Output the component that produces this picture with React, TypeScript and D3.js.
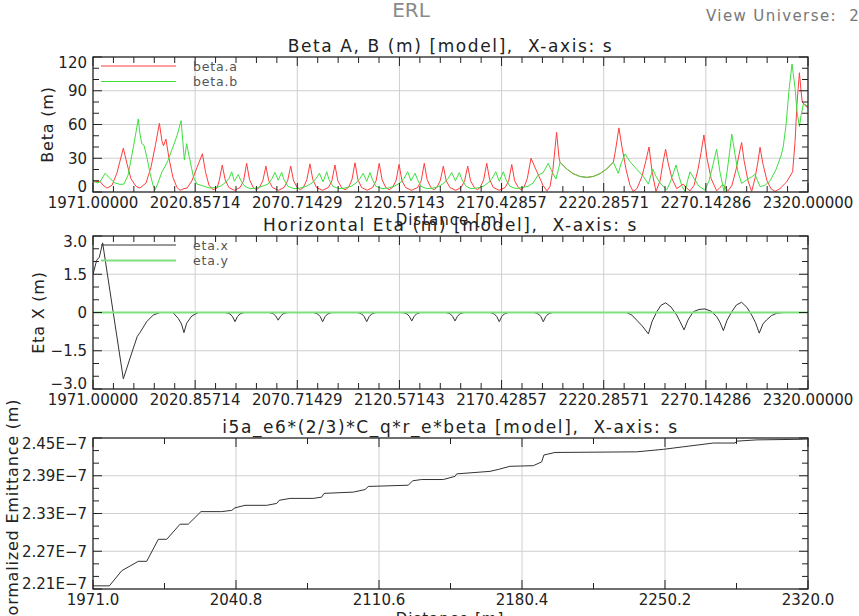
import React, { useEffect } from 'react';
import * as d3 from 'd3';

type Pt = [number, number];

const FONT = "'DejaVu Sans', 'Liberation Sans', sans-serif";
const WIDTH = 859;
const HEIGHT = 616;
const PLOT_LEFT = 93;
const PLOT_RIGHT = 808;
const S_MIN = 1971;
const S_MAX = 2320;

// ---- axis ticks -------------------------------------------------------
const sTicksFine = [1971, 2020.85714, 2070.71429, 2120.57143, 2170.42857, 2220.28571, 2270.14286, 2320];
const sLabelsFine = ['1971.00000', '2020.85714', '2070.71429', '2120.57143', '2170.42857', '2220.28571', '2270.14286', '2320.00000'];
const sTicksCoarse = [1971, 2040.8, 2110.6, 2180.4, 2250.2, 2320];
const sLabelsCoarse = ['1971.0', '2040.8', '2110.6', '2180.4', '2250.2', '2320.0'];

const betaTicks = [0, 30, 60, 90, 120];
const betaLabels = ['0', '30', '60', '90', '120'];
const etaTicks = [-3, -1.5, 0, 1.5, 3];
const etaLabels = ['\u22123.0', '\u22121.5', '0', '1.5', '3.0'];
const emitTicks = [2.21, 2.27, 2.33, 2.39, 2.45];
const emitLabels = ['2.21E\u22127', '2.27E\u22127', '2.33E\u22127', '2.39E\u22127', '2.45E\u22127'];

// ---- beta.a (m) vs s (m) ----------------------------------------------
const betaA: Pt[] = [
  [1971.0, 9], [1974.4, 9.5], [1975.9, 6], [1977.8, 3.5], [1980.3, 6], [1982.7, 17], [1985.8, 39],
  [1987.6, 25], [1989.5, 12], [1992.0, 5], [1993.9, 3.5], [1996.9, 8], [1999.3, 22], [2001.5, 42],
  [2003.4, 61], [2004.7, 45], [2005.4, 41], [2006.6, 47], [2008.1, 30], [2010.0, 13], [2012.0, 4],
  [2013.5, 1.5], [2015.4, 3], [2016.9, 3.5], [2019.3, 10], [2021.8, 22], [2024.4, 34], [2025.9, 18],
  [2027.6, 6], [2029.6, 2], [2031.5, 3.5], [2032.6, 10], [2034.1, 24], [2035.5, 11], [2037.3, 4],
  [2040.0, 1.5], [2042.8, 4], [2044.5, 10], [2046.0, 25.5], [2047.4, 11], [2049.2, 4], [2050.7, 2],
  [2052.2, 4], [2053.9, 10], [2055.4, 23], [2056.8, 10], [2058.6, 4], [2061.5, 1.5],
  [2064.3, 4], [2066.0, 10], [2067.5, 23], [2068.9, 10], [2070.7, 4], [2072.2, 2],
  [2073.7, 4], [2075.4, 11], [2076.9, 25], [2078.3, 11], [2080.1, 4], [2083.0, 1.5],
  [2085.9, 4], [2087.6, 10], [2089.1, 24], [2090.5, 10], [2092.3, 4], [2094.0, 2],
  [2095.7, 4], [2097.4, 11], [2098.9, 26], [2100.3, 11], [2102.1, 4], [2104.8, 1.5],
  [2107.5, 4], [2109.2, 10], [2110.7, 25.5], [2112.1, 11], [2113.9, 4], [2115.5, 2],
  [2117.2, 4], [2118.9, 10], [2120.4, 24.5], [2121.8, 10], [2123.6, 4], [2126.5, 1.5],
  [2129.5, 4], [2131.2, 10], [2132.7, 25.5], [2134.1, 11], [2135.9, 4], [2137.4, 2],
  [2138.8, 4], [2140.5, 10], [2142.0, 23], [2143.4, 10], [2145.2, 4], [2148.0, 1.5],
  [2150.7, 4], [2152.4, 10], [2153.9, 23], [2155.3, 10], [2157.1, 4], [2158.6, 2],
  [2160.0, 4], [2161.7, 11], [2163.2, 25.5], [2164.6, 11], [2166.4, 4], [2169.3, 1.5],
  [2172.2, 4], [2173.9, 10], [2175.4, 24.5], [2176.8, 10], [2178.6, 4], [2180.0, 2],
  [2181.5, 5], [2183.0, 12], [2184.8, 30], [2187.2, 20], [2189.2, 12], [2190.6, 6], [2192.6, 1],
  [2194.1, 5], [2195.5, 20], [2197.3, 53], [2198.5, 30], [2199.0, 26.4],
  [2202.2, 20.5], [2205.4, 16.3], [2208.7, 13.8], [2212.0, 13], [2215.2, 13.8], [2218.5, 16.3],
  [2221.7, 20.5], [2225.0, 26.4],
  [2226.3, 40], [2227.7, 57], [2229.2, 40], [2231.2, 20], [2233.1, 6], [2234.7, 0.5], [2236.5, 3],
  [2239.0, 14], [2240.9, 28], [2242.4, 40], [2243.9, 18], [2245.8, 0.5], [2247.8, 10], [2249.2, 26],
  [2250.5, 38], [2251.7, 26], [2253.6, 12], [2255.9, 3], [2257.5, 5], [2259.1, 7], [2260.5, 4],
  [2262.4, 1], [2264.4, 6], [2266.3, 20], [2267.8, 35], [2269.2, 50.7], [2270.7, 30], [2272.7, 12],
  [2275.4, 1], [2277.0, 4], [2278.5, 6.7], [2280.0, 3], [2281.0, 1], [2282.9, 6], [2284.9, 20],
  [2286.3, 33], [2287.6, 44], [2288.8, 28], [2290.7, 10], [2292.5, 0.5], [2294.1, 12], [2295.4, 25],
  [2296.6, 39.7], [2298.0, 25], [2300.0, 10], [2301.9, 3], [2303.9, 0.5], [2306.3, 3], [2309.6, 9],
  [2312.5, 18], [2313.7, 45], [2314.6, 78], [2315.8, 106], [2316.6, 90], [2317.2, 80], [2318.5, 77],
  [2320.0, 75],
];

// ---- beta.b (m) vs s (m) ----------------------------------------------
const betaB: Pt[] = [
  [1971.0, 10.5], [1973.0, 8], [1974.4, 9], [1976.9, 16.6], [1979.3, 12], [1981.7, 8], [1984.2, 6.8],
  [1986.1, 7], [1988.1, 15], [1990.0, 33], [1991.5, 48], [1993.1, 65], [1993.9, 52], [1994.8, 43],
  [1995.9, 41.5], [1997.4, 30], [1998.8, 17], [2000.3, 6], [2001.3, 1.8], [2002.7, 8], [2004.7, 18],
  [2006.1, 22.5], [2007.6, 28], [2009.6, 38], [2012.0, 50], [2014.0, 63.4], [2015.6, 28.4],
  [2016.7, 43], [2017.9, 32], [2020.0, 13.6], [2021.8, 7], [2023.7, 6], [2025.7, 4.7], [2028.1, 3.5],
  [2030.5, 4], [2033.0, 5], [2035.4, 8], [2037.4, 12], [2038.7, 18], [2040.0, 9.5], [2041.9, 15.5],
  [2043.2, 10], [2045.2, 5], [2047.6, 3], [2050.6, 3.5], [2053.5, 5], [2056.4, 7], [2058.4, 12],
  [2059.8, 17.5], [2061.4, 10.5], [2063.1, 17.5], [2064.2, 11], [2066.2, 5], [2069.1, 3],
  [2072.0, 3.5], [2075.0, 5], [2077.9, 8], [2079.9, 12], [2081.5, 16.6], [2083.3, 9], [2085.1, 18],
  [2086.2, 11], [2088.1, 5], [2091.1, 3], [2094.0, 3.5], [2096.9, 5], [2099.4, 8], [2101.3, 12],
  [2102.9, 16.6], [2104.6, 9.5], [2106.2, 17.3], [2107.4, 11], [2109.1, 5], [2112.1, 3],
  [2115.0, 3.5], [2117.9, 5], [2120.9, 8], [2122.8, 12], [2124.6, 18], [2126.2, 10], [2128.2, 16.6],
  [2129.4, 11], [2131.1, 5], [2134.0, 3], [2137.0, 3.5], [2139.9, 5], [2142.3, 8], [2144.3, 12],
  [2146.1, 17.3], [2147.9, 10], [2149.8, 17.3], [2151.1, 11], [2153.1, 5], [2155.5, 3],
  [2158.4, 3.5], [2161.4, 5], [2163.8, 8], [2165.8, 12], [2167.6, 18], [2169.3, 9.5], [2171.3, 18],
  [2172.6, 11], [2174.5, 5], [2177.5, 3], [2180.4, 4], [2183.3, 5], [2185.8, 8], [2188.2, 15],
  [2190.6, 17], [2193.2, 25.5], [2195.0, 18], [2197.0, 11.6], [2199.0, 26.4],
  [2202.2, 20.5], [2205.4, 16.3], [2208.7, 13.8], [2212.0, 13], [2215.2, 13.8], [2218.5, 16.3],
  [2221.7, 20.5], [2225.0, 26.4],
  [2227.4, 16.6], [2228.7, 25], [2230.7, 33.8], [2233.1, 27], [2236.0, 21], [2239.6, 14], [2242.1, 7],
  [2244.2, 20.4], [2245.8, 14], [2247.8, 8], [2251.0, 1.8], [2252.6, 8], [2254.1, 16], [2255.6, 24],
  [2257.0, 14], [2258.5, 5], [2260.0, 0.5], [2261.2, 10], [2262.4, 18], [2264.4, 12], [2266.8, 5],
  [2269.7, 1.8], [2271.7, 10], [2273.6, 24], [2275.4, 38.2], [2277.0, 18], [2279.0, 0.5], [2280.5, 18],
  [2281.7, 35], [2282.8, 51.5], [2284.4, 33], [2285.8, 18], [2287.6, 7.7], [2290.2, 11], [2292.2, 13],
  [2294.1, 15.7], [2295.4, 10], [2296.6, 4.7], [2299.0, 6], [2301.5, 10], [2304.4, 20], [2306.8, 32],
  [2307.9, 40], [2309.3, 60], [2310.7, 90], [2312.2, 113.8], [2313.7, 92], [2314.6, 72], [2315.8, 58],
  [2316.6, 68], [2317.7, 78], [2318.5, 78], [2320.0, 76],
];

// ---- eta.x / eta.y (m) vs s (m) ---------------------------------------
const etaX: Pt[] = [
  [1971.0, 1.5], [1972.8, 2.05], [1974.1, 2.17], [1975.7, 2.73], [1985.8, -2.6], [1989.9, -1.59],
  [1992.6, -0.94], [1993.9, -0.79], [1997.2, -0.36], [2000.4, -0.1], [2003.7, 0], [2010.0, 0],
  [2012.6, -0.23], [2014.2, -0.45], [2015.4, -0.79], [2016.7, -0.42], [2019.2, -0.14], [2022.4, 0],
  [2035.9, 0], [2037.9, -0.06], [2039.1, -0.16], [2040.3, -0.36], [2041.5, -0.16], [2042.7, -0.06], [2044.7, 0],
  [2057.0, 0], [2059.0, -0.05], [2060.2, -0.14], [2061.4, -0.3], [2062.6, -0.14], [2063.8, -0.05], [2065.8, 0],
  [2078.7, 0], [2080.7, -0.06], [2081.9, -0.16], [2083.1, -0.36], [2084.3, -0.16], [2085.5, -0.06], [2087.5, 0],
  [2100.2, 0], [2102.2, -0.06], [2103.4, -0.16], [2104.6, -0.36], [2105.8, -0.16], [2107.0, -0.06], [2109.0, 0],
  [2122.2, 0], [2124.2, -0.05], [2125.4, -0.15], [2126.6, -0.33], [2127.8, -0.15], [2129.0, -0.05], [2131.0, 0],
  [2143.3, 0], [2145.3, -0.05], [2146.5, -0.15], [2147.7, -0.33], [2148.9, -0.15], [2150.1, -0.05], [2152.1, 0],
  [2164.9, 0], [2166.9, -0.06], [2168.1, -0.16], [2169.3, -0.36], [2170.5, -0.16], [2171.7, -0.06], [2173.7, 0],
  [2186.4, 0], [2188.4, -0.06], [2189.6, -0.16], [2190.8, -0.36], [2192.0, -0.16], [2193.2, -0.06], [2195.2, 0],
  [2231.5, 0], [2234.0, -0.1], [2236.4, -0.3], [2239.0, -0.52], [2242.1, -0.84], [2243.9, -0.35],
  [2246.2, 0.03], [2248.2, 0.28], [2250.5, 0.38], [2253.1, 0.22], [2255.9, -0.1], [2257.5, -0.35],
  [2259.5, -0.68], [2261.4, -0.3], [2264.0, 0.03], [2266.8, 0.12], [2269.7, 0.14], [2272.7, 0.05],
  [2275.4, -0.16], [2277.0, -0.38], [2278.7, -0.71], [2280.5, -0.3], [2282.8, 0.03], [2285.1, 0.3],
  [2287.6, 0.4], [2290.2, 0.2], [2292.5, -0.1], [2294.4, -0.4], [2296.2, -0.81], [2298.0, -0.45],
  [2299.8, -0.29], [2302.2, -0.12], [2304.7, -0.03], [2307.9, 0], [2320.0, 0],
];
const etaY: Pt[] = [[1971.0, 0], [2320.0, 0]];

// ---- i5a_e6*(2/3)*C_q*r_e*beta, in units of 1e-7 m ---------------------
const emittance: Pt[] = [
  [1971.0, 2.215], [1979.0, 2.215], [1985.0, 2.239], [1993.1, 2.254], [1997.2, 2.254], [2002.9, 2.289],
  [2007.0, 2.289], [2013.5, 2.313], [2017.5, 2.313], [2023.7, 2.333], [2033.8, 2.333], [2038.7, 2.335],
  [2040.3, 2.339], [2045.2, 2.343], [2055.8, 2.343], [2060.7, 2.346], [2061.9, 2.351], [2067.2, 2.354],
  [2078.5, 2.354], [2082.6, 2.356], [2083.8, 2.362], [2098.1, 2.364], [2103.8, 2.368], [2105.4, 2.373],
  [2124.9, 2.375], [2127.0, 2.382], [2131.4, 2.384], [2142.0, 2.384], [2147.7, 2.389], [2148.5, 2.393],
  [2164.8, 2.397], [2168.8, 2.4], [2174.5, 2.405], [2185.9, 2.406], [2190.0, 2.412], [2191.1, 2.423],
  [2196.5, 2.427], [2236.4, 2.428], [2249.4, 2.432], [2259.1, 2.436], [2273.8, 2.442], [2284.4, 2.442],
  [2285.2, 2.445], [2295.0, 2.447], [2317.7, 2.448], [2320.0, 2.4485],
];

interface Series {
  name: string;
  data: Pt[];
  color: string;
  width: number;
}

interface PanelCfg {
  id: string;
  title: string;
  top: number;
  bottom: number;
  yDomain: [number, number];
  yTicks: number[];
  yLabels: string[];
  yMinorDiv: number;
  xTicks: number[];
  xLabels: string[];
  xMinorDiv: number;
  yTitle: string;
  yTitleX: number;
  series: Series[];
  legend: boolean;
}

const panels: PanelCfg[] = [
  {
    id: 'beta',
    title: 'Beta A, B (m) [model],  X-axis: s',
    top: 57,
    bottom: 192,
    yDomain: [0, 120],
    yTicks: betaTicks,
    yLabels: betaLabels,
    yMinorDiv: 3,
    xTicks: sTicksFine,
    xLabels: sLabelsFine,
    xMinorDiv: 5,
    yTitle: 'Beta (m)',
    yTitleX: 47,
    series: [
      { name: 'beta.a', data: betaA, color: '#ff3c3c', width: 1 },
      { name: 'beta.b', data: betaB, color: '#3ee03e', width: 1 },
    ],
    legend: true,
  },
  {
    id: 'eta',
    title: 'Horizontal Eta (m) [model],  X-axis: s',
    top: 236,
    bottom: 389,
    yDomain: [-3, 3],
    yTicks: etaTicks,
    yLabels: etaLabels,
    yMinorDiv: 3,
    xTicks: sTicksFine,
    xLabels: sLabelsFine,
    xMinorDiv: 5,
    yTitle: 'Eta X (m)',
    yTitleX: 38,
    series: [
      { name: 'eta.x', data: etaX, color: '#333333', width: 1 },
      { name: 'eta.y', data: etaY, color: '#7fe07f', width: 2 },
    ],
    legend: true,
  },
  {
    id: 'emit',
    title: 'i5a_e6*(2/3)*C_q*r_e*beta [model],  X-axis: s',
    top: 438,
    bottom: 589,
    yDomain: [2.21, 2.45],
    yTicks: emitTicks,
    yLabels: emitLabels,
    yMinorDiv: 3,
    xTicks: sTicksCoarse,
    xLabels: sLabelsCoarse,
    xMinorDiv: 2,
    yTitle: 'Normalized Emittance (m)',
    yTitleX: 12,
    series: [{ name: 'emit', data: emittance, color: '#333333', width: 1 }],
    legend: false,
  },
];

// ticks between two majors
function minorTicks(major: number[], div: number): number[] {
  const out: number[] = [];
  for (let i = 0; i < major.length - 1; i++) {
    for (let k = 1; k < div; k++) {
      out.push(major[i] + ((major[i + 1] - major[i]) * k) / div);
    }
  }
  return out;
}

const Panel: React.FC<{ cfg: PanelCfg }> = ({ cfg }) => {
  const x = d3.scaleLinear().domain([S_MIN, S_MAX]).range([PLOT_LEFT, PLOT_RIGHT]);
  const y = d3.scaleLinear().domain(cfg.yDomain).range([cfg.bottom, cfg.top]);
  const line = d3
    .line<Pt>()
    .x((d) => x(d[0]))
    .y((d) => y(d[1]));

  const xMinor = minorTicks(cfg.xTicks, cfg.xMinorDiv);
  const yMinor = minorTicks(cfg.yTicks, cfg.yMinorDiv);
  const MAJ = 9;
  const MIN = 6;
  const axisColor = '#222';
  const midY = (cfg.top + cfg.bottom) / 2;

  return (
    <g>
      <defs>
        <clipPath id={`clip-${cfg.id}`}>
          <rect x={PLOT_LEFT} y={cfg.top} width={PLOT_RIGHT - PLOT_LEFT} height={cfg.bottom - cfg.top} />
        </clipPath>
      </defs>

      {/* grid */}
      {cfg.xTicks.slice(1, -1).map((t) => (
        <line key={`gx${t}`} x1={x(t)} x2={x(t)} y1={cfg.top} y2={cfg.bottom} stroke="#cfcfcf" strokeWidth={1} />
      ))}
      {cfg.yTicks.slice(1, -1).map((t) => (
        <line key={`gy${t}`} x1={PLOT_LEFT} x2={PLOT_RIGHT} y1={y(t)} y2={y(t)} stroke="#cfcfcf" strokeWidth={1} />
      ))}

      {/* curves */}
      <g clipPath={`url(#clip-${cfg.id})`}>
        {cfg.series.map((s) => (
          <path key={s.name} d={line(s.data) ?? ''} fill="none" stroke={s.color} strokeWidth={s.width} strokeLinejoin="round" />
        ))}
      </g>

      {/* frame */}
      <rect
        x={PLOT_LEFT}
        y={cfg.top}
        width={PLOT_RIGHT - PLOT_LEFT}
        height={cfg.bottom - cfg.top}
        fill="none"
        stroke={axisColor}
        strokeWidth={1.3}
      />

      {/* ticks, all pointing inward */}
      {[...cfg.xTicks.map((t) => [t, MAJ]), ...xMinor.map((t) => [t, MIN])].map(([t, len]) => (
        <g key={`tx${t}`} stroke={axisColor} strokeWidth={1}>
          <line x1={x(t)} x2={x(t)} y1={cfg.bottom} y2={cfg.bottom - len} />
          <line x1={x(t)} x2={x(t)} y1={cfg.top} y2={cfg.top + len} />
        </g>
      ))}
      {[...cfg.yTicks.map((t) => [t, MAJ]), ...yMinor.map((t) => [t, MIN])].map(([t, len]) => (
        <g key={`ty${t}`} stroke={axisColor} strokeWidth={1}>
          <line x1={PLOT_LEFT} x2={PLOT_LEFT + len} y1={y(t)} y2={y(t)} />
          <line x1={PLOT_RIGHT} x2={PLOT_RIGHT - len} y1={y(t)} y2={y(t)} />
        </g>
      ))}

      {/* tick labels */}
      {cfg.xTicks.map((t, i) => (
        <text key={`lx${t}`} x={x(t)} y={cfg.bottom + 16} textAnchor="middle" fontSize={15} fill="#222">
          {cfg.xLabels[i]}
        </text>
      ))}
      {cfg.yTicks.map((t, i) => {
        const yy = Math.min(Math.max(y(t), cfg.top + 6), cfg.bottom - 5);
        return (
          <text key={`ly${t}`} x={PLOT_LEFT - 6} y={yy} dy="0.36em" textAnchor="end" fontSize={15} fill="#222">
            {cfg.yLabels[i]}
          </text>
        );
      })}

      {/* titles */}
      <text
        x={(PLOT_LEFT + PLOT_RIGHT) / 2}
        y={cfg.top - 5}
        textAnchor="middle"
        fontSize={17}
        letterSpacing={1.6}
        fill="#222"
        style={{ whiteSpace: 'pre' }}
      >
        {cfg.title}
      </text>
      <text
        transform={`translate(${cfg.yTitleX},${midY}) rotate(-90)`}
        textAnchor="middle"
        dy="0.36em"
        fontSize={16}
        letterSpacing={0.8}
        fill="#222"
      >
        {cfg.yTitle}
      </text>

      {/* legend */}
      {cfg.legend &&
        cfg.series.map((s, i) => {
          const ly = cfg.top + 9 + i * 15.5;
          return (
            <g key={`lg${s.name}`}>
              <line x1={101} x2={176} y1={ly} y2={ly} stroke={s.color} strokeWidth={s.width} />
              <text x={193} y={ly} dy="0.36em" fontSize={12.5} letterSpacing={0.8} fill="#555">
                {s.name}
              </text>
            </g>
          );
        })}
    </g>
  );
};

const App: React.FC = () => {
  useEffect(() => {
    document.body.style.margin = '0';
  }, []);

  return (
    <svg width={WIDTH} height={HEIGHT} style={{ display: 'block', background: '#fff', fontFamily: FONT }}>
      <rect width={WIDTH} height={HEIGHT} fill="#fff" />
      <text x={411} y={17} textAnchor="middle" fontSize={20} fill="#8a8a8a">
        ERL
      </text>
      <text x={706} y={21} fontSize={15} letterSpacing={1.4} fill="#777" style={{ whiteSpace: 'pre' }}>
        {'View Universe:  2'}
      </text>
      {panels.map((p) => (
        <Panel key={p.id} cfg={p} />
      ))}
      {/* x-axis titles (the second one sits under the last title, the third below the window) */}
      <text x={450} y={225} textAnchor="middle" fontSize={15} letterSpacing={1} fill="#222">
        Distance [m]
      </text>
      <text x={450} y={624} textAnchor="middle" fontSize={15} letterSpacing={1} fill="#222">
        Distance [m]
      </text>
    </svg>
  );
};

export default App;
